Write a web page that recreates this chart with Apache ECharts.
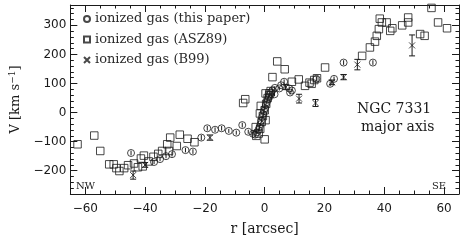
<!DOCTYPE html>
<html><head><meta charset="utf-8">
<script src="https://cdn.jsdelivr.net/npm/echarts@6/dist/echarts.min.js"></script>
<style>html,body{margin:0;padding:0;background:#fff}#c{width:463px;height:241px}</style>
</head><body><div id="c"></div>
<script>
// ---- data ----
const xMajorTicks = [-60, -40, -20, 0, 20, 40, 60];
const xMinorTicks = [-65,-55,-50,-45,-35,-30,-25,-15,-10,-5,5,10,15,25,30,35,45,50,55,65];
const yMajorTicks = [-200, -100, 0, 100, 200, 300];
const yMinorTicks = [-280,-260,-240,-220,-180,-160,-140,-120,-80,-60,-40,-20,20,40,60,80,120,140,160,180,220,240,260,280,320,340,360];

// this paper: [r, V, err]
const circles = [
  [-44.7,-139,8],[-37,-170,7],[-35,-160,7],[-33,-150,7],[-31,-143,8],[-26.5,-129,8],[-24,-134,8],
  [-21.2,-86,9],[-19.2,-54,8],[-16.6,-59,8],[-14.4,-54,8],[-12,-63,7],[-9.5,-69,7],[-7.5,-43,8],
  [-5.5,-66,7],[-3.9,-73,7],[-3.2,-76,6],[-2.6,-68,6],[-2.1,-60,6],[-1.7,-50,6],[-1.4,-40,6],
  [-1.1,-28,6],[-0.8,-15,6],[-0.5,-5,6],[-0.2,5,6],[0.1,15,6],[0.4,26,6],[0.7,36,6],[1.0,45,6],
  [1.3,54,6],[1.7,62,6],[2.1,70,6],[2.6,77,6],[3.3,63,7],[3.4,85,6],[4.9,83,7],[5.5,94,7],
  [6.5,106,8],[8.2,83,7],[8.5,69,7],[9.1,76,7],[17.3,116,8],[21.9,99,8],[23.2,116,8],
  [26.4,172,8],[36.2,172,8]
];
// ASZ89: [r, V]
const squares = [
  [-62.6,-109],[-57,-79],[-55,-132],[-52,-178],[-50.5,-178],[-49.6,-191],[-48.6,-201],[-47,-191],
  [-45.7,-181],[-43.7,-175],[-42.4,-188],[-41.4,-158],[-40.4,-148],[-40.8,-185],[-38.8,-168],
  [-37.2,-152],[-35.6,-142],[-34.3,-132],[-32,-132],[-32.6,-109],[-31.6,-86],[-29.4,-115],
  [-28.4,-76],[-25.8,-90],[-23.5,-102],
  [-3,-50],[0,-92],[0.3,-26],[-2.8,-80],[-2,-72],[-1.5,-56],[-1,-32],[-0.6,-12],[0,8],[0.5,30],
  [1,50],[1.5,60],[2,74],[-1.3,23],[-1.6,-3],[0.3,66],[1.6,66],
  [-7.2,33],[-6.5,46],[2.6,122],[4.2,176],[6.7,149],[9.1,106],[11.4,114],[13.5,92],[15,103],
  [15.7,99],[16.6,112],[17.5,118],[20.2,155],[32.6,195],[35.2,224],[36.9,244],[37.5,264],
  [38.2,287],[38.5,323],[39.2,310],[40.8,310],[42,281],[42.7,290],[46,300],[48,310],[48,327],
  [52,270],[53.5,264],[55.8,360],[58,310],[61,290]
];
// B99: [r, V, err]
const crosses = [
  [-44,-215,14],[-40,-180,8],[-18.3,-86,9],[7,88,9],[11.5,48,15],[17,33,12],[22.5,104,8],
  [26.4,122,9],[31,165,18],[49.3,231,36]
];

const ink = '#1a1a1a';
const serif = 'DejaVu Serif';
const crossPath = 'path://M0,0L10,10M10,0L0,10';

function errBars(withCaps) {
  return function (params, api) {
    const x = api.value(0), lo = api.value(1), hi = api.value(2);
    const p1 = api.coord([x, lo]), p2 = api.coord([x, hi]);
    const children = [{type:'line', shape:{x1:p1[0],y1:p1[1],x2:p2[0],y2:p2[1]}, style:{stroke:ink,lineWidth:1}}];
    if (withCaps) {
      children.push({type:'line', shape:{x1:p1[0]-3,y1:p1[1],x2:p1[0]+3,y2:p1[1]}, style:{stroke:ink,lineWidth:1}});
      children.push({type:'line', shape:{x1:p2[0]-3,y1:p2[1],x2:p2[0]+3,y2:p2[1]}, style:{stroke:ink,lineWidth:1}});
    }
    return {type:'group', children};
  };
}

const axLine = {show:true, onZero:false, lineStyle:{color:ink, width:1}};
function xAx(pos, major, withLabel, name) {
  return {
    type:'value', position:pos, min:-65, max:65, gridIndex:0,
    axisLine: major ? axLine : {show:false, onZero:false},
    axisTick:{show:true, inside:true, length: major?7:3.5, lineStyle:{color:ink}, customValues: major?xMajorTicks:xMinorTicks},
    axisLabel: withLabel ? {show:true, customValues:xMajorTicks, margin:9, color:ink, fontFamily:'DejaVu Sans', fontSize:12,
      formatter: v => (v<0?'\u2212'+Math.abs(v):String(v))} : {show:false},
    splitLine:{show:false},
    name: name||'', nameLocation:'middle', nameGap:28,
    nameTextStyle:{fontFamily:serif, fontSize:14, color:ink}
  };
}
function yAx(pos, major, withLabel, name) {
  return {
    type:'value', position:pos, min:-280, max:370, gridIndex:0,
    axisLine: major ? axLine : {show:false, onZero:false},
    axisTick:{show:true, inside:true, length: major?7:3.5, lineStyle:{color:ink}, customValues: major?yMajorTicks:yMinorTicks},
    axisLabel: withLabel ? {show:true, customValues:yMajorTicks, margin:4, color:ink, fontFamily:'DejaVu Sans', fontSize:12,
      formatter: v => (v<0?'\u2212'+Math.abs(v):String(v))} : {show:false},
    splitLine:{show:false},
    name: name||'', nameLocation:'middle', nameGap:46, nameRotate:90,
    nameTextStyle:{fontFamily:serif, fontSize:13, color:ink,
      rich:{sup:{fontFamily:serif, fontSize:9, color:ink, padding:[0,0,7,0]}}}
  };
}

const chart = echarts.init(document.getElementById('c'), null, {renderer:'canvas'});
chart.setOption({
  animation:false,
  backgroundColor:'#fff',
  grid:{left:62, right:4, top:5, bottom:39.5, containLabel:false},
  xAxis:[xAx('bottom',true,true,'r [arcsec]'), xAx('bottom',false,false), xAx('top',true,false), xAx('top',false,false)],
  yAxis:[yAx('left',true,true,'V [km s{sup|\u22121}]'), yAx('left',false,false), yAx('right',true,false), yAx('right',false,false)],
  legend:{
    data:['ionized gas (this paper)','ionized gas (ASZ89)','ionized gas (B99)'],
    orient:'vertical', left:83, top:12, itemWidth:6, itemHeight:6, itemGap:6.5, padding:0,
    textStyle:{fontFamily:serif, fontSize:13, color:'#2a2a2a', lineHeight:14},
    selectedMode:false
  },
  graphic:[
    {type:'text', left:357, top:102, style:{text:'NGC 7331', font:'14px "DejaVu Serif"', fill:ink}},
    {type:'text', left:361, top:120, style:{text:'major axis', font:'14px "DejaVu Serif"', fill:ink}},
    {type:'text', left:76, top:181, style:{text:'NW', font:'10px "DejaVu Serif"', fill:ink}},
    {type:'text', left:432, top:181, style:{text:'SE', font:'10px "DejaVu Serif"', fill:ink}}
  ],
  series:[
    {type:'custom', name:'errC', xAxisIndex:0, yAxisIndex:0, renderItem:errBars(false),
      data: circles.map(d=>[d[0], d[1]-d[2], d[1]+d[2]]), encode:{x:0,y:[1,2]}, z:2, silent:true},
    {type:'custom', name:'errX', xAxisIndex:0, yAxisIndex:0, renderItem:errBars(true),
      data: crosses.map(d=>[d[0], d[1]-d[2], d[1]+d[2]]), encode:{x:0,y:[1,2]}, z:2, silent:true},
    {type:'scatter', name:'ionized gas (this paper)', xAxisIndex:0, yAxisIndex:0, symbol:'circle', symbolSize:7,
      data: circles.map(d=>[d[0],d[1]]), itemStyle:{color:'rgba(255,255,255,0)', borderColor:ink, borderWidth:1}, z:3},
    {type:'scatter', name:'ionized gas (ASZ89)', xAxisIndex:0, yAxisIndex:0, symbol:'rect', symbolSize:7.5,
      data: squares, itemStyle:{color:'rgba(255,255,255,0)', borderColor:ink, borderWidth:1}, z:3},
    {type:'scatter', name:'ionized gas (B99)', xAxisIndex:0, yAxisIndex:0, symbol:crossPath, symbolSize:6,
      data: crosses.map(d=>[d[0],d[1]]), itemStyle:{color:'rgba(255,255,255,0)', borderColor:ink, borderWidth:1}, z:3}
  ]
});
</script></body></html>
